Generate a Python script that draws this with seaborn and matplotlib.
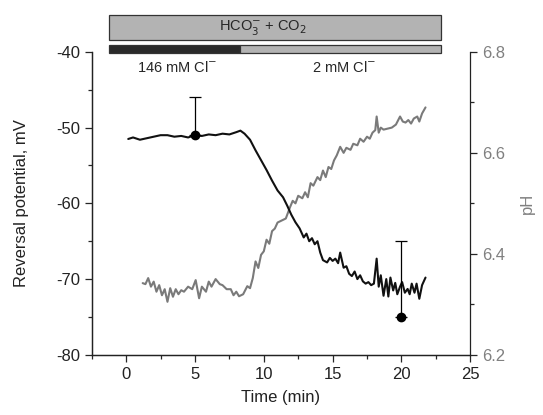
import numpy as np
import pandas as pd
import matplotlib
matplotlib.use("Agg")
import matplotlib.pyplot as plt
import seaborn as sns
from matplotlib.patches import Rectangle
from matplotlib.ticker import MultipleLocator

sns.set_style("ticks")
plt.rcParams['font.family'] = ['Liberation Sans', 'DejaVu Sans']
plt.rcParams['axes.unicode_minus'] = False

# reversal potential trace (min, mV)
t_erev = [0.15, 0.5, 1.0, 1.5, 2.0, 2.5, 3.0, 3.5, 4.0, 4.5, 5.0, 5.5, 6.0, 6.5, 7.0, 7.5,
          8.0, 8.3, 8.6, 9.0, 9.4, 9.8, 10.2, 10.6, 11.0, 11.4, 11.7, 12.0, 12.3, 12.6, 12.9,
          13.1, 13.3, 13.5, 13.7, 13.9, 14.1, 14.3, 14.6, 14.8, 15.0, 15.2, 15.4, 15.55, 15.8,
          16.0, 16.2, 16.4, 16.6, 16.8, 17.0, 17.2, 17.4, 17.6, 17.8, 18.0, 18.2, 18.35, 18.5,
          18.7, 18.9, 19.05, 19.2, 19.4, 19.55, 19.7, 19.9, 20.05, 20.25, 20.45, 20.6, 20.75,
          20.95, 21.1, 21.3, 21.5, 21.75]
erev = [-51.5, -51.3, -51.6, -51.4, -51.2, -51.0, -51.0, -51.2, -51.1, -51.3, -51.0, -51.1,
        -50.9, -51.0, -50.8, -50.9, -50.6, -50.4, -50.8, -51.6, -53.0, -54.3, -55.6, -57.0,
        -58.3, -59.2, -60.3, -61.5, -62.5, -63.3, -64.5, -64.0, -65.0, -64.6, -65.4, -65.0,
        -66.5, -67.5, -67.8, -67.2, -67.6, -67.3, -67.9, -66.5, -68.5, -68.3, -69.3, -69.6,
        -69.0, -70.0, -69.5, -70.3, -70.6, -70.4, -70.8, -70.6, -67.3, -71.0, -69.5, -72.2,
        -70.0, -72.3, -69.8, -71.5, -70.5, -72.0, -71.0, -70.4, -71.8, -71.3, -72.0, -70.6,
        -71.8, -70.6, -72.6, -70.8, -69.8]

# pH trace
t_ph = [1.2, 1.4, 1.6, 1.8, 2.0, 2.2, 2.4, 2.6, 2.8, 3.0, 3.2, 3.4, 3.6, 3.8, 4.0, 4.2, 4.5,
        4.8, 5.05, 5.3, 5.5, 5.8, 6.0, 6.2, 6.5, 6.8, 7.0, 7.3, 7.6, 7.8, 8.0, 8.2, 8.5, 8.8,
        9.0, 9.2, 9.4, 9.6, 9.8, 10.0, 10.2, 10.4, 10.6, 10.8, 11.0, 11.3, 11.6, 11.9, 12.1,
        12.3, 12.5, 12.8, 13.0, 13.2, 13.4, 13.6, 13.9, 14.1, 14.3, 14.5, 14.7, 14.9, 15.1,
        15.3, 15.55, 15.8, 16.0, 16.3, 16.5, 16.8, 17.0, 17.25, 17.5, 17.7, 17.9, 18.1, 18.2,
        18.35, 18.5, 18.7, 19.0, 19.3, 19.6, 19.9, 20.1, 20.3, 20.5, 20.7, 20.9, 21.15, 21.3,
        21.5, 21.75]
ph = [6.342, 6.340, 6.352, 6.335, 6.345, 6.325, 6.338, 6.318, 6.330, 6.305, 6.332, 6.315,
      6.330, 6.320, 6.328, 6.325, 6.335, 6.330, 6.348, 6.312, 6.335, 6.325, 6.345, 6.335,
      6.350, 6.340, 6.338, 6.330, 6.330, 6.318, 6.325, 6.316, 6.320, 6.336, 6.332, 6.352,
      6.385, 6.372, 6.398, 6.405, 6.428, 6.420, 6.445, 6.450, 6.462, 6.466, 6.470, 6.492,
      6.505, 6.500, 6.515, 6.510, 6.522, 6.512, 6.540, 6.535, 6.552, 6.546, 6.565, 6.552,
      6.572, 6.568, 6.585, 6.595, 6.612, 6.600, 6.610, 6.606, 6.618, 6.615, 6.628, 6.622,
      6.632, 6.628, 6.640, 6.645, 6.672, 6.640, 6.650, 6.646, 6.648, 6.650, 6.656, 6.672,
      6.662, 6.660, 6.665, 6.658, 6.668, 6.672, 6.662, 6.678, 6.690]

# mean points with upward error
pt_t = [5, 20]
pt_v = [-51, -75]
pt_err = [5, 10]

df_e = pd.DataFrame({"t": t_erev, "v": erev})
df_p = pd.DataFrame({"t": t_ph, "ph": ph})

fig = plt.figure(figsize=(5.43, 4.15), dpi=100)
ax = fig.add_axes([0.169, 0.145, 0.697, 0.73])
ax2 = ax.twinx()

sns.lineplot(data=df_p, x="t", y="ph", ax=ax2, color="#7a7a7a", lw=1.5)
sns.lineplot(data=df_e, x="t", y="v", ax=ax, color="#111111", lw=1.5)
ax.set_zorder(ax2.get_zorder() + 1)
ax.patch.set_visible(False)

ax.errorbar(pt_t, pt_v, yerr=[[0, 0], pt_err], fmt="o", color="black", ms=6,
            capsize=4, elinewidth=0.9, capthick=0.9)

ax.set_xlim(-2.5, 25)
ax.set_ylim(-80, -40)
ax2.set_ylim(6.2, 6.8)
ax.set_xticks([0, 5, 10, 15, 20, 25])
ax.xaxis.set_minor_locator(MultipleLocator(2.5))
ax.set_yticks([-80, -70, -60, -50, -40])
ax.yaxis.set_minor_locator(MultipleLocator(5))
ax2.set_yticks([6.2, 6.4, 6.6, 6.8])
ax2.yaxis.set_minor_locator(MultipleLocator(0.1))

for a in (ax, ax2):
    a.tick_params(which="both", direction="out", labelsize=12, width=0.9)
    a.tick_params(which="major", length=5)
    a.tick_params(which="minor", length=3)
    a.spines["top"].set_visible(False)
    for s in a.spines.values():
        s.set_linewidth(0.9)
        s.set_color("#222222")
ax.tick_params(axis="both", labelcolor="#222222")
ax2.tick_params(axis="y", labelcolor="#808080")
ax.spines["right"].set_visible(False)

ax.set_xlabel("Time (min)", fontsize=12, color="#222222", labelpad=6)
ax.set_ylabel("Reversal potential, mV", fontsize=12, color="#222222",
              va="center", ha="center")
ax.yaxis.set_label_coords(-0.185, 0.5)
ax2.set_ylabel("pH", fontsize=12, color="#808080", rotation=90,
               va="center", ha="center")
ax2.yaxis.set_label_coords(1.15, 0.5)

# solution bars above the plot
bar_x0, bar_mid, bar_x1 = -1.25, 8.25, 22.85
ax.add_patch(Rectangle((bar_x0, -38.4), bar_x1 - bar_x0, 3.3, facecolor="#b3b3b3",
                       edgecolor="#333333", lw=0.9, clip_on=False))
ax.add_patch(Rectangle((bar_x0, -40.1), bar_mid - bar_x0, 1.0, facecolor="#2a2a2a",
                       edgecolor="#333333", lw=0.9, clip_on=False))
ax.add_patch(Rectangle((bar_mid, -40.1), bar_x1 - bar_mid, 1.0, facecolor="#b3b3b3",
                       edgecolor="#333333", lw=0.9, clip_on=False))
ax.text(9.9, -36.75, r"HCO$_3^{-}$ + CO$_2$", ha="center", va="center", fontsize=10.5,
        clip_on=False)
ax.text(3.7, -42.1, "146 mM Cl$^{-}$", ha="center", va="center", fontsize=10.5)
ax.text(15.8, -42.1, "2 mM Cl$^{-}$", ha="center", va="center", fontsize=10.5)

fig.savefig("out.png", dpi=100)
